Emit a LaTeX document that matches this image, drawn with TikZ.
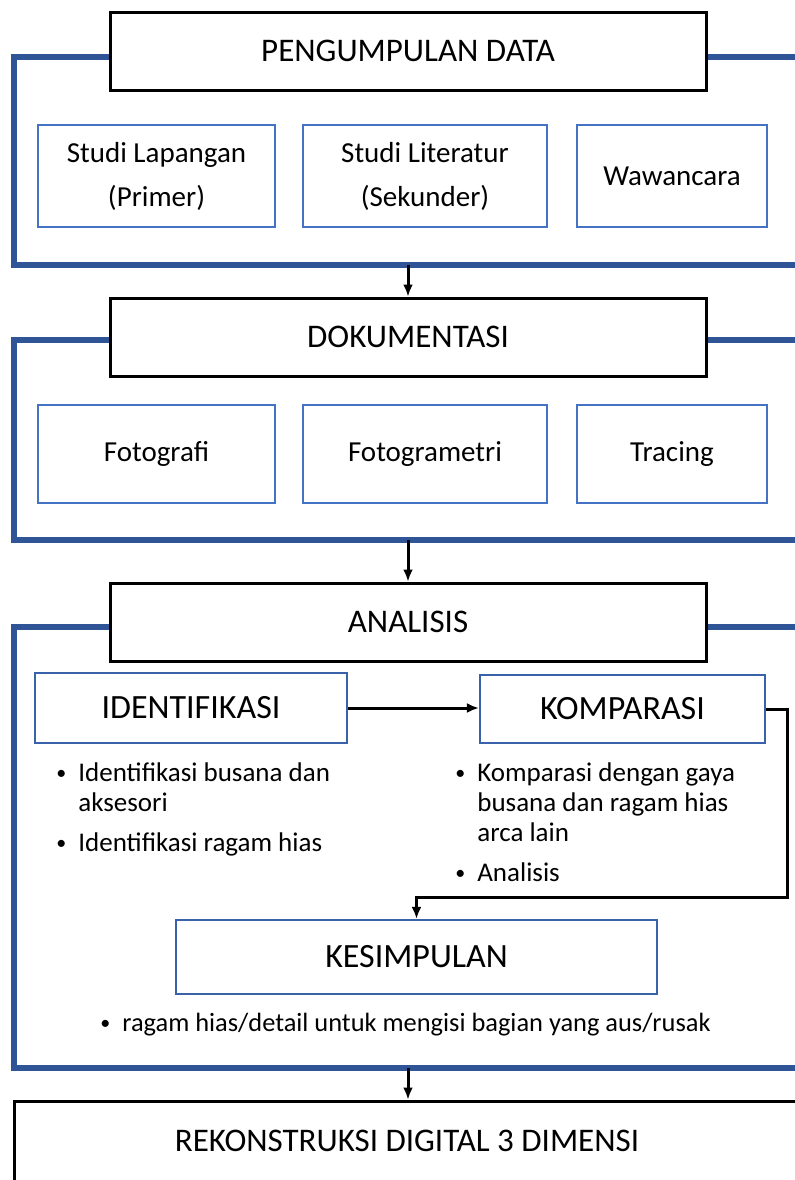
\documentclass[tikz,border=0pt]{standalone}
\usepackage{fontspec}
\setmainfont{Carlito}
\usetikzlibrary{arrows.meta}

\newcommand{\bolinha}{\raisebox{0.9pt}{\fontsize{10}{10}\selectfont\textbullet}}

\begin{document}
\begin{tikzpicture}[x=0.5pt, y=-0.5pt,
        titulo/.style={draw=black, line width=1.5pt, fill=white, minimum width=298pt, minimum height=39pt, font=\fontsize{16.5}{20}\selectfont},
        caixa/.style={draw=color2, line width=1pt, align=center, font=\fontsize{14.5}{22}\selectfont},
        subtitulo/.style={draw=color3, line width=1.1pt, font=\fontsize{17}{20}\selectfont},
        moldura/.style={color1, line width=2.6pt},
        seta/.style={-{Latex[length=6pt,width=5pt]}, line width=1.5pt},
        lista/.style={anchor=base west, inner sep=0pt, font=\fontsize{13.5}{15}\selectfont}]
        % Paleta de azuis
        \definecolor{color1}{HTML}{2F5597}
        \definecolor{color2}{HTML}{4472C4}
        \definecolor{color3}{HTML}{3A62AA}

        \useasboundingbox (0,0) rectangle (795,1180);

        % Etapas principais
        \node[titulo] (pengumpulan) at (408,51) {PENGUMPULAN DATA};
        \node[titulo] (dokumentasi) at (408,337) {DOKUMENTASI};
        \node[titulo] (analisis) at (408,622) {ANALISIS};
        \node[titulo, minimum width=393pt, minimum height=40pt] (rekonstruksi) at (407,1141) {REKONSTRUKSI DIGITAL 3 DIMENSI};

        % Molduras azuis (abertas a direita)
        \foreach \nome/\topo/\base in {pengumpulan/57/265, dokumentasi/340/540, analisis/627/1068} {
            \draw[moldura] (\nome.west |- 0,\topo) -- (14,\topo) -- (14,\base) -- (830,\base);
            \draw[moldura] (\nome.east |- 0,\topo) -- (830,\topo);
        }

        % Caixas internas: {x/largura/texto/nome}
        \foreach \cx/\w/\txt/\nome in {156.5/118.5/{Studi Lapangan\\(Primer)}/lapangan, 425/122/{Studi Literatur\\(Sekunder)}/literatur, 672/95/{Wawancara}/wawancara} {
            \node[caixa, minimum width=\w pt, minimum height=51pt] (\nome) at (\cx,176) {\txt};
        }
        \foreach \cx/\w/\txt/\nome in {156.5/118.5/{Fotografi}/fotografi, 425/122/{Fotogrametri}/fotogrametri, 672/95/{Tracing}/tracing} {
            \node[caixa, minimum width=\w pt, minimum height=49pt] (\nome) at (\cx,454) {\txt};
        }

        % Analise
        \node[subtitulo, minimum width=156pt, minimum height=35pt] (identifikasi) at (191,708) {IDENTIFIKASI};
        \node[subtitulo, minimum width=142.5pt, minimum height=34pt] (komparasi) at (622.5,709) {KOMPARASI};
        \node[subtitulo, minimum width=240.5pt, minimum height=37pt] (kesimpulan) at (416.5,957) {KESIMPULAN};

        % Listas de itens
        \node[lista] (listaident) at (56,781) {\begin{tabular}[t]{@{}l@{\hspace{6pt}}l@{}}\bolinha & Identifikasi busana dan\\ & aksesori\\[5pt] \bolinha & Identifikasi ragam hias\end{tabular}};
        \node[lista] (listakomp) at (455,781) {\begin{tabular}[t]{@{}l@{\hspace{6pt}}l@{}}\bolinha & Komparasi dengan gaya\\ & busana dan ragam hias\\ & arca lain\\[5pt] \bolinha & Analisis\end{tabular}};
        \node[lista, font=\fontsize{13.2}{15}\selectfont] (listakes) at (100,1031) {\bolinha\hspace{6pt}ragam hias/detail untuk mengisi bagian yang aus/rusak};

        % Setas entre etapas
        \foreach \y/\alvo [count=\i] in {265/dokumentasi, 540/analisis, 1068/rekonstruksi} {
            \coordinate (saida\i) at (408,\y);
            \draw[seta] (saida\i) -- (saida\i |- \alvo.north);
        }
        \draw[seta] (identifikasi.east) -- (identifikasi.east -| komparasi.west);
        \coordinate (dobra) at (787,897);
        \draw[seta] (komparasi.east) -| (dobra) -| (kesimpulan.north);
    \end{tikzpicture}
\end{document}
